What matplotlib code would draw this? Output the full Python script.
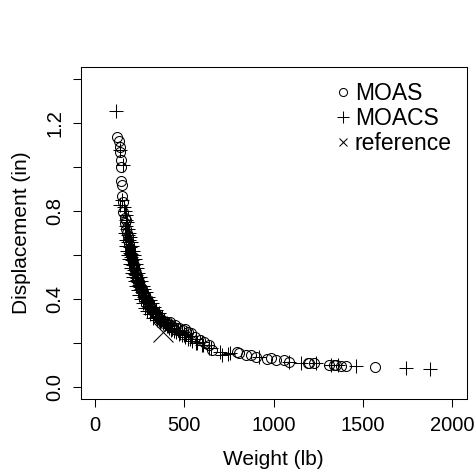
import matplotlib
matplotlib.use("Agg")
import matplotlib.pyplot as plt
from matplotlib.lines import Line2D

plt.rcParams['font.family'] = ['Liberation Sans', 'DejaVu Sans']

# MOAS solutions (circles)
moas_w = [122, 135, 140, 140, 144, 144, 146, 150, 153, 159, 159, 165, 169,
          176, 183, 190, 197, 205, 212, 220, 228, 237, 246, 256, 266, 277,
          289, 301, 314, 327, 341, 356, 372, 390, 410, 421, 445, 470, 506,
          535, 562, 590, 607, 635, 657, 796, 805, 843, 871, 899, 964, 983,
          1011, 1056, 1084, 1189, 1197, 1225, 1309, 1337, 1350, 1376, 1404,
          1567,
          171, 178, 186, 193, 201, 209, 216, 224, 232, 241, 251, 261, 272,
          283, 295, 308, 321, 334, 348, 364, 381, 400, 432, 460, 490, 520]
moas_d = [1.138, 1.118, 1.092, 1.07, 1.03, 1.0, 0.936, 0.918, 0.868, 0.842,
          0.797, 0.77, 0.745,
          0.72, 0.685, 0.65, 0.62, 0.585, 0.565, 0.54, 0.52, 0.49, 0.475,
          0.45, 0.43, 0.415, 0.395, 0.38, 0.36, 0.345, 0.33, 0.315, 0.305,
          0.295, 0.29, 0.297, 0.28, 0.27, 0.264, 0.245, 0.227, 0.215, 0.205,
          0.19, 0.168, 0.16, 0.155, 0.145, 0.145, 0.138, 0.127, 0.132, 0.123,
          0.123, 0.115, 0.109, 0.109, 0.109, 0.10, 0.10, 0.10, 0.097, 0.097,
          0.091,
          0.76, 0.70, 0.67, 0.63, 0.60, 0.58, 0.555, 0.53, 0.505, 0.485,
          0.46, 0.445, 0.42, 0.405, 0.39, 0.37, 0.355, 0.34, 0.325, 0.31,
          0.30, 0.285, 0.275, 0.27, 0.26, 0.25]

# MOACS solutions (pluses)
moacs_w = [116, 140, 158, 150, 140, 160, 165,
           172, 175, 178, 181, 184, 186, 189, 192, 195, 198, 201, 204, 207,
           210, 213, 216, 220, 224, 228, 232, 236, 240, 245, 250, 255, 260,
           266, 272, 278, 284, 290, 297, 304, 311, 318, 326, 334, 342, 351,
           360, 370, 380, 391, 402, 414, 427, 440, 455, 470, 486, 503, 520,
           545, 570, 600, 640, 713, 742, 758, 917, 1084, 1152, 1236, 1320,
           1360, 1461, 1742, 1876,
           175, 180, 185, 190, 195, 200, 205, 210, 216, 222, 228, 235, 242,
           250, 258, 267, 276, 286, 296, 307, 318, 330, 343, 357, 372, 388,
           405, 423, 442, 462, 484, 508, 535, 565, 600,
           168, 172, 176, 180, 185, 190, 196, 202, 208, 215, 222, 230, 238,
           247, 257, 268, 280, 293, 307, 322, 345, 365, 390, 410, 430, 452,
           475, 500, 530, 566, 606, 650, 700]
moacs_d = [1.255, 1.077, 1.01, 0.85, 0.827, 0.82, 0.80,
           0.76, 0.73, 0.72, 0.70, 0.69, 0.66, 0.67, 0.64, 0.635, 0.61, 0.605,
           0.59, 0.575, 0.56, 0.555, 0.54, 0.53, 0.515, 0.51, 0.495, 0.485,
           0.475, 0.465, 0.455, 0.445, 0.43, 0.425, 0.41, 0.405, 0.39, 0.385,
           0.37, 0.365, 0.355, 0.345, 0.34, 0.33, 0.32, 0.315, 0.305, 0.30,
           0.29, 0.285, 0.275, 0.27, 0.26, 0.255, 0.25, 0.24, 0.235, 0.225,
           0.22, 0.21, 0.20, 0.19, 0.175, 0.145, 0.15, 0.153, 0.136, 0.114,
           0.109, 0.109, 0.10, 0.10, 0.094, 0.085, 0.083,
           0.78, 0.75, 0.72, 0.70, 0.68, 0.66, 0.64, 0.62, 0.60, 0.58, 0.56,
           0.54, 0.52, 0.50, 0.48, 0.46, 0.445, 0.43, 0.41, 0.395, 0.38,
           0.365, 0.35, 0.335, 0.32, 0.305, 0.29, 0.28, 0.27, 0.26, 0.25,
           0.24, 0.23, 0.22, 0.205,
           0.70, 0.67, 0.64, 0.62, 0.60, 0.58, 0.56, 0.54, 0.52, 0.50, 0.48,
           0.46, 0.44, 0.42, 0.40, 0.38, 0.36, 0.345, 0.33, 0.315, 0.305,
           0.295, 0.285, 0.275, 0.265, 0.255, 0.245, 0.235, 0.22, 0.20, 0.19,
           0.175, 0.16]

# reference design
ref_w = [378]
ref_d = [0.25]

xticks = [0, 500, 1000, 1500, 2000]
yticks = [0.0, 0.2, 0.4, 0.6, 0.8, 1.0, 1.2, 1.4]
ylabels = ['0.0', '', '0.4', '', '0.8', '', '1.2', '']

fig = plt.figure(figsize=(4.75, 4.75), dpi=100)
ax = fig.add_axes([0.170, 0.1594, 0.8126, 0.7002])

lw = 0.75
ax.plot(moas_w, moas_d, linestyle='none', marker='o', markersize=7.2,
        markerfacecolor='none', markeredgecolor='black', markeredgewidth=lw)
ax.plot(moacs_w, moacs_d, linestyle='none', marker='+', markersize=9.4,
        color='black', markeredgewidth=lw)
ax.plot(ref_w, ref_d, linestyle='none', marker='x', markersize=14.4,
        color='black', markeredgewidth=lw)

ax.set_xlim(-80, 2080)
ax.set_ylim(-0.056, 1.456)
ax.set_xticks(xticks)
ax.set_yticks(yticks)
ax.set_yticklabels(ylabels, rotation=90, va='center')
ax.tick_params(direction='out', length=5.8, width=lw, labelsize=14.5,
               color='black')
ax.tick_params(axis='x', pad=6)
ax.tick_params(axis='y', pad=6)
for s in ax.spines.values():
    s.set_linewidth(lw)

ax.set_xlabel('Weight (lb)', fontsize=15, labelpad=11)
ax.set_ylabel('Displacement (in)', fontsize=15, labelpad=10)

handles = [
    Line2D([], [], linestyle='none', marker='o', markersize=5.8,
           markerfacecolor='none', markeredgecolor='black', markeredgewidth=lw),
    Line2D([], [], linestyle='none', marker='+', markersize=8,
           color='black', markeredgewidth=lw),
    Line2D([], [], linestyle='none', marker='x', markersize=5.8,
           color='black', markeredgewidth=lw),
]
ax.legend(handles, ['MOAS', 'MOACS', 'reference'], loc='upper right',
          frameon=False, fontsize=16.5, handlelength=0.8, handletextpad=0.1,
          labelspacing=0.1, borderaxespad=0.1, borderpad=0.55)

fig.savefig('out.png', dpi=100)
